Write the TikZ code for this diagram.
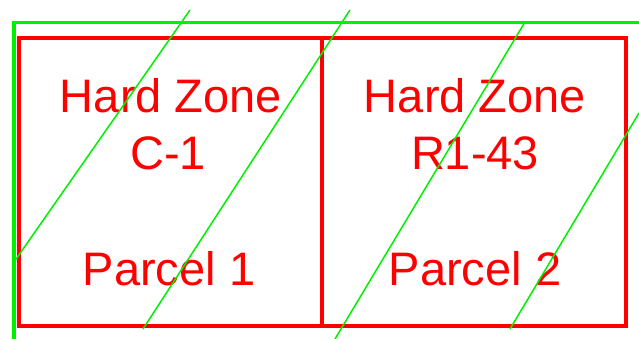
\documentclass[tikz,border=0pt]{standalone}
\usepackage{fontspec}
\setmainfont{Liberation Sans}
\usetikzlibrary{positioning}
\definecolor{zonered}{RGB}{255,0,0}
\definecolor{linegreen}{RGB}{0,240,0}

\begin{document}
\begin{tikzpicture}[
  x=1pt, y=-1pt,
  bound/.style={draw=linegreen, line width=3.4pt},
  lot/.style={draw=zonered, line width=3.3pt},
  hatch/.style={draw=linegreen, line width=1.5pt},
  lbl/.style={text=zonered, anchor=base, inner sep=0pt,
              font=\fontsize{47}{50}\selectfont},
]
\useasboundingbox (0,0) rectangle (639,339);

% ---------------- boundary ----------------------------------------------
\coordinate (b1) at (14,339);
\coordinate (b2) at (14,22.5);
\coordinate (b3) at (639,22.5);
\draw[bound] (b1) -- (b2) -- (b3);

% ---------------- parcels -----------------------------------------------
\draw[lot] (19,38) rectangle (626,326);
\draw[lot] (322,38) -- (322,326);

% ---------------- labels ------------------------------------------------
\node[lbl] (hz1) at (171,113) {Hard Zone};
\node[lbl] (zn1) at (168,170) {C-1};
\node[lbl] (pc1) at (169,285) {Parcel 1};
\node[lbl] (hz2) at (475,113) {Hard Zone};
\node[lbl] (zn2) at (475,170) {R1-43};
\node[lbl] (pc2) at (475,285) {Parcel 2};

% ---------------- hatch lines -------------------------------------------
\foreach \i/\xa/\ya/\xb/\yb in {1/190/10/14/262, 2/350/10/143/329,
                                3/525/22/335/339, 4/639/113/510/329} {
  \coordinate (h\i a) at (\xa,\ya);
  \coordinate (h\i b) at (\xb,\yb);
  \draw[hatch] (h\i a) -- (h\i b);
}

\end{tikzpicture}
\end{document}
